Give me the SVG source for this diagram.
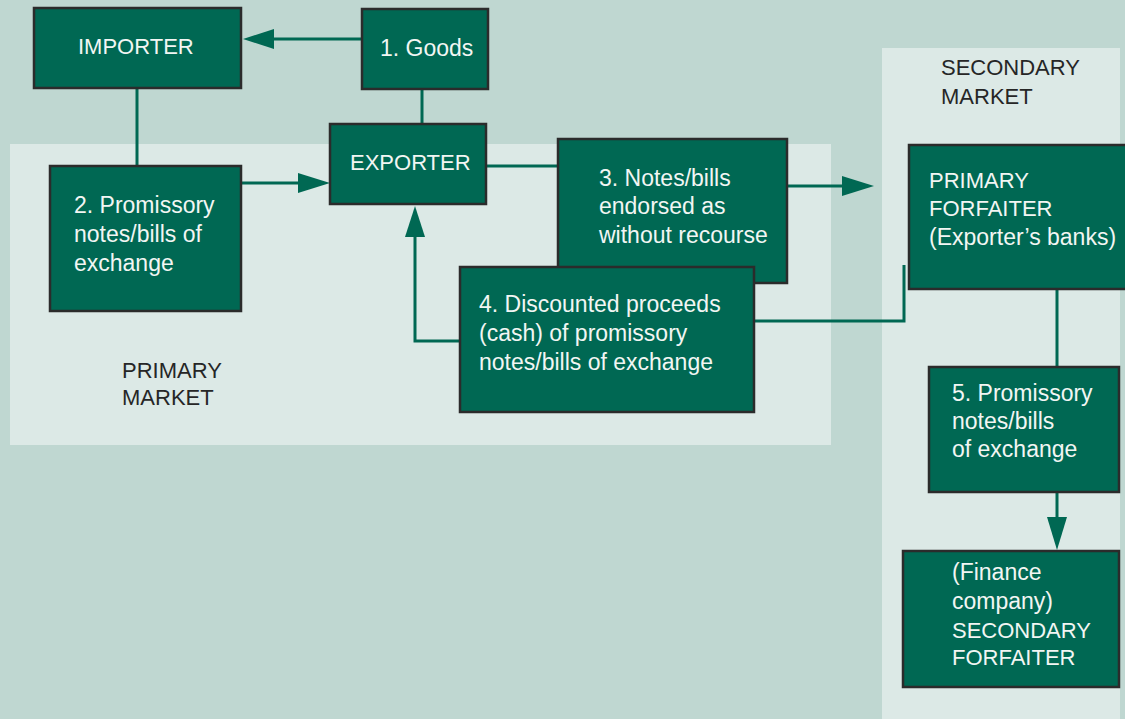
<svg xmlns="http://www.w3.org/2000/svg" width="1125" height="719" viewBox="0 0 1125 719">
<style>
.box{fill:#006853;stroke:#2b2b2b;stroke-width:2.5}
.t{font-family:"Liberation Sans",Arial,sans-serif;font-size:23px;fill:#f2f6f3}
.u{font-size:22px}
.m{font-family:"Liberation Sans",Arial,sans-serif;font-size:22px;fill:#262626}
.c{fill:none;stroke:#006853;stroke-width:3}
.ah{fill:#006853}
</style>
<rect width="1125" height="719" fill="#bfd7d1"/>
<rect x="10" y="144" width="821" height="301" fill="#dce9e6"/>
<rect x="882" y="48" width="238" height="671" fill="#dce9e6"/>
<text class="m" x="122" y="378">PRIMARY</text>
<text class="m" x="122" y="405">MARKET</text>
<text class="m" x="941" y="75">SECONDARY</text>
<text class="m" x="941" y="104">MARKET</text>
<g id="connectors">
<line class="c" x1="362" y1="39" x2="270" y2="39"/>
<polygon class="ah" points="243,39 274,29 274,49"/>
<line class="c" x1="422" y1="89" x2="422" y2="124"/>
<line class="c" x1="137" y1="88" x2="137" y2="166"/>
<line class="c" x1="241" y1="183" x2="300" y2="183"/>
<polygon class="ah" points="330,183 298,173 298,193"/>
<polyline class="c" points="460,341 415,341 415,232"/>
<polygon class="ah" points="415,206 405,237 425,237"/>
<line class="c" x1="486" y1="166" x2="558" y2="166"/>
<line class="c" x1="787" y1="186" x2="845" y2="186"/>
<polygon class="ah" points="874,186 842,176 842,196"/>
<polyline class="c" points="754,321 904,321 904,265"/>
<line class="c" x1="1057" y1="289" x2="1057" y2="367"/>
<line class="c" x1="1057" y1="492" x2="1057" y2="520"/>
<polygon class="ah" points="1057,550 1047,517 1067,517"/>
</g>
<g id="importer"><rect class="box" x="34" y="8" width="207" height="80"/><text class="t u" x="78" y="54">IMPORTER</text></g>
<g id="goods"><rect class="box" x="362" y="9" width="126" height="80"/><text class="t" x="380" y="56">1. Goods</text></g>
<g id="exporter"><rect class="box" x="330" y="124" width="156" height="80"/><text class="t u" x="350" y="170">EXPORTER</text></g>
<g id="promissory"><rect class="box" x="50" y="166" width="191" height="145"/><text class="t" x="74" y="213">2. Promissory</text><text class="t" x="74" y="242">notes/bills of</text><text class="t" x="74" y="271">exchange</text></g>
<g id="endorsed"><rect class="box" x="558" y="139" width="229" height="144"/><text class="t" x="599" y="186">3. Notes/bills</text><text class="t" x="599" y="214">endorsed as</text><text class="t" x="599" y="243">without recourse</text></g>
<g id="discounted"><rect class="box" x="460" y="267" width="294" height="145"/><text class="t" x="479" y="312">4. Discounted proceeds</text><text class="t" x="479" y="341">(cash) of promissory</text><text class="t" x="479" y="370">notes/bills of exchange</text></g>
<g id="primary-forfaiter"><rect class="box" x="909" y="145" width="222" height="144"/><text class="t u" x="929" y="188">PRIMARY</text><text class="t u" x="929" y="216">FORFAITER</text><text class="t" x="929" y="245">(Exporter’s banks)</text></g>
<g id="promissory5"><rect class="box" x="929" y="367" width="190" height="125"/><text class="t" x="952" y="401">5. Promissory</text><text class="t" x="952" y="429">notes/bills</text><text class="t" x="952" y="457">of exchange</text></g>
<g id="secondary-forfaiter"><rect class="box" x="903" y="551" width="216" height="136"/><text class="t" x="952" y="580">(Finance</text><text class="t" x="952" y="609">company)</text><text class="t u" x="952" y="638">SECONDARY</text><text class="t u" x="952" y="665">FORFAITER</text></g>
</svg>
